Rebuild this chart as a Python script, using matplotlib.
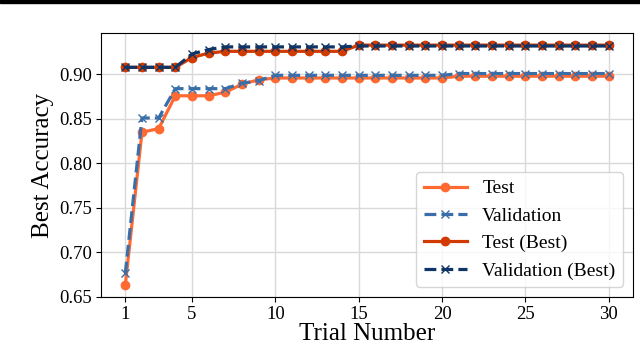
import matplotlib
matplotlib.use("Agg")
import matplotlib.pyplot as plt
from matplotlib.patches import Rectangle

plt.rcParams["font.family"] = ["Liberation Serif", "DejaVu Serif"]
plt.rcParams["mathtext.fontset"] = "stix"

trials = list(range(1, 31))
xticks = [1, 5, 10, 15, 20, 25, 30]

test = [0.663, 0.835, 0.839, 0.876, 0.876, 0.876, 0.880, 0.889, 0.894, 0.896,
        0.896, 0.896, 0.896, 0.896, 0.896, 0.896, 0.896, 0.896, 0.896, 0.896,
        0.898, 0.898, 0.898, 0.898, 0.898, 0.898, 0.898, 0.898, 0.898, 0.898]
validation = [0.676, 0.851, 0.851, 0.884, 0.884, 0.884, 0.884, 0.890, 0.893, 0.899,
              0.899, 0.899, 0.899, 0.899, 0.899, 0.899, 0.899, 0.899, 0.899, 0.899,
              0.901, 0.901, 0.901, 0.901, 0.901, 0.901, 0.901, 0.901, 0.901, 0.901]
test_best = [0.908, 0.908, 0.908, 0.908, 0.919, 0.924, 0.926, 0.926, 0.926, 0.926,
             0.926, 0.926, 0.926, 0.926, 0.933, 0.933, 0.933, 0.933, 0.933, 0.933,
             0.933, 0.933, 0.933, 0.933, 0.933, 0.933, 0.933, 0.933, 0.933, 0.933]
validation_best = [0.908, 0.908, 0.908, 0.908, 0.923, 0.928, 0.931, 0.931, 0.931, 0.931,
                   0.931, 0.931, 0.931, 0.931, 0.932, 0.932, 0.932, 0.932, 0.932, 0.932,
                   0.932, 0.932, 0.932, 0.932, 0.932, 0.932, 0.932, 0.932, 0.932, 0.932]

fig = plt.figure(figsize=(6.4, 3.45), dpi=100)
ax = fig.add_axes([0.158, 0.139, 0.831, 0.765])

ax.plot(trials, test, marker="o", markersize=6, linewidth=2.3,
        color="#ff6a33", label="Test")
ax.plot(trials, validation, marker="x", markersize=6, linewidth=2.3,
        linestyle="--", color="#3a6ea8", label="Validation")
ax.plot(trials, test_best, marker="o", markersize=6, linewidth=2.3,
        color="#d13a00", label="Test (Best)")
ax.plot(trials, validation_best, marker="x", markersize=6, linewidth=2.3,
        linestyle="--", color="#0f3566", label="Validation (Best)")

ax.set_xticks(xticks)
ax.set_xlabel("Trial Number", fontsize=18, labelpad=0)
ax.set_ylabel("Best Accuracy", fontsize=18, labelpad=4)
ax.tick_params(labelsize=13.5, pad=3)
ax.grid(True, color="#d9d9d9", linewidth=1)
ax.set_axisbelow(True)

ax.legend(loc="lower right", fontsize=14, handlelength=2.2,
          borderaxespad=0.5, framealpha=0.8)

# dark band along the top edge of the image
fig.add_artist(Rectangle((0, 0.99), 1, 0.01, transform=fig.transFigure,
                         color="black", clip_on=False))

fig.savefig("out.png", dpi=100)
